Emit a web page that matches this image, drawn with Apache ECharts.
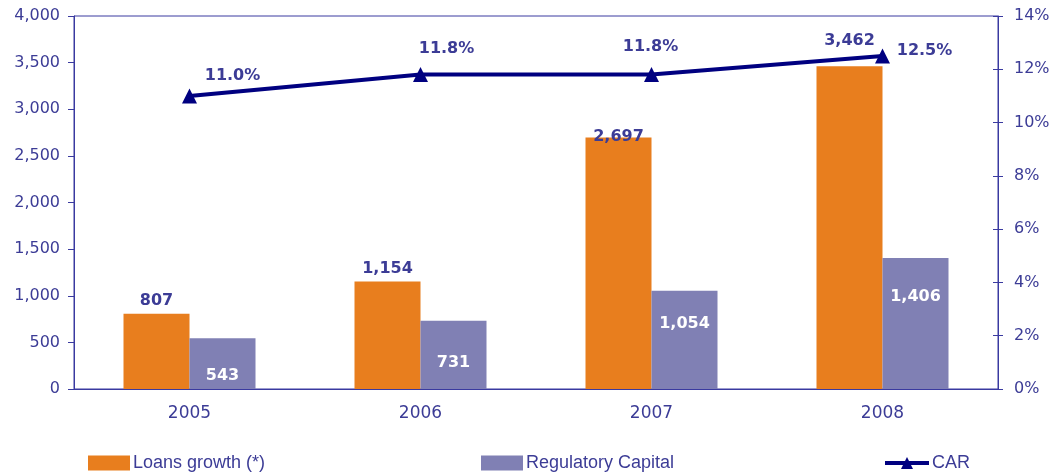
<!DOCTYPE html>
<html>
<head>
<meta charset="utf-8">
<script src="https://cdn.jsdelivr.net/npm/echarts@6/dist/echarts.min.js"></script>
<style>
  html, body { margin: 0; padding: 0; background: #fff; }
  #chart { width: 1053px; height: 476px; }
</style>
</head>
<body>
<div id="chart"></div>
<script>
// Categories and series values
const years = ['2005', '2006', '2007', '2008'];
const loansGrowth = [807, 1154, 2697, 3462];
const regulatoryCapital = [543, 731, 1054, 1406];
const car = [11.0, 11.8, 11.8, 12.5];

// Fine-tuned label placements per point
const loanLabelOffsets = [[0, 0], [0, 0], [0, 12], [0, -12]];
const capLabelOffsets = [[0, 24], [0, 29], [0, 20], [0, 26]];
const carLabelOffsets = [[43, -20], [26, -26], [-1, -28], [42, -5]];

const axisColor = '#3a3aa0';
const textColor = '#3c3c96';
const font = 'DejaVu Sans';

const chart = echarts.init(document.getElementById('chart'));

const fmt = v => v.toLocaleString('en-US');

const legendBase = {
  itemWidth: 42, itemHeight: 15, itemGap: 3, top: 449, padding: 5,
  textStyle: { color: textColor, fontSize: 18, fontFamily: 'Liberation Sans', padding: [0, 0, 0, -2] }
};

chart.setOption({
  animation: false,
  textStyle: { fontFamily: font },
  grid: {
    left: 74, right: 55, top: 16, bottom: 87,
    show: true, borderColor: axisColor, borderWidth: 1
  },
  legend: [
    Object.assign({}, legendBase, {
      data: [{ name: 'Loans growth (*)', icon: 'rect' }], left: 83
    }),
    Object.assign({}, legendBase, {
      data: [{ name: 'Regulatory Capital', icon: 'rect' }], left: 476
    }),
    Object.assign({}, legendBase, {
      data: ['CAR'], left: 878, itemWidth: 44,
      lineStyle: { width: 4 }
    })
  ],
  xAxis: {
    type: 'category',
    data: years,
    axisTick: { show: false },
    axisLine: { lineStyle: { color: axisColor, width: 1 } },
    axisLabel: { color: textColor, fontSize: 17, margin: 16 }
  },
  yAxis: [
    {
      type: 'value', min: 0, max: 4000, interval: 500,
      axisLine: { show: true, lineStyle: { color: axisColor } },
      axisTick: { show: true, length: 6, lineStyle: { color: axisColor } },
      splitLine: { show: false },
      axisLabel: { color: textColor, fontSize: 16, margin: 14, formatter: v => fmt(v) }
    },
    {
      type: 'value', min: 0, max: 14, interval: 2, position: 'right',
      axisLine: { show: true, lineStyle: { color: axisColor } },
      axisTick: { show: true, length: 5, lineStyle: { color: axisColor } },
      splitLine: { show: false },
      axisLabel: { color: textColor, fontSize: 16, margin: 16, formatter: '{value}%' }
    },
    {
      // inner half of the right-hand ticks, so they cross the axis line
      type: 'value', min: 0, max: 14, interval: 2, position: 'right',
      axisLine: { show: false },
      axisTick: { show: true, inside: true, length: 5, lineStyle: { color: axisColor } },
      splitLine: { show: false },
      axisLabel: { show: false }
    }
  ],
  series: [
    {
      name: 'Loans growth (*)',
      type: 'bar',
      barWidth: 66,
      barGap: '0%',
      itemStyle: { color: '#e87e1e' },
      data: loansGrowth.map((v, i) => ({
        value: v,
        label: { offset: loanLabelOffsets[i] }
      })),
      label: {
        show: true, position: 'top', distance: 5,
        color: textColor, fontWeight: 'bold', fontSize: 16,
        formatter: p => fmt(p.value)
      }
    },
    {
      name: 'Regulatory Capital',
      type: 'bar',
      barWidth: 66,
      barGap: '0%',
      itemStyle: { color: '#8080b4' },
      data: regulatoryCapital.map((v, i) => ({
        value: v,
        label: { offset: capLabelOffsets[i] }
      })),
      label: {
        show: true, position: 'insideTop', distance: 5,
        color: '#ffffff', fontWeight: 'bold', fontSize: 16,
        formatter: p => fmt(p.value)
      }
    },
    {
      name: 'CAR',
      type: 'line',
      yAxisIndex: 1,
      symbol: 'triangle',
      symbolSize: 15,
      lineStyle: { color: '#000080', width: 4 },
      itemStyle: { color: '#000080' },
      data: car.map((v, i) => ({
        value: v,
        label: { offset: carLabelOffsets[i] }
      })),
      label: {
        show: true, position: 'inside',
        color: textColor, fontWeight: 'bold', fontSize: 16,
        formatter: p => p.value.toFixed(1) + '%'
      },
      z: 5
    }
  ]
});
</script>
</body>
</html>
